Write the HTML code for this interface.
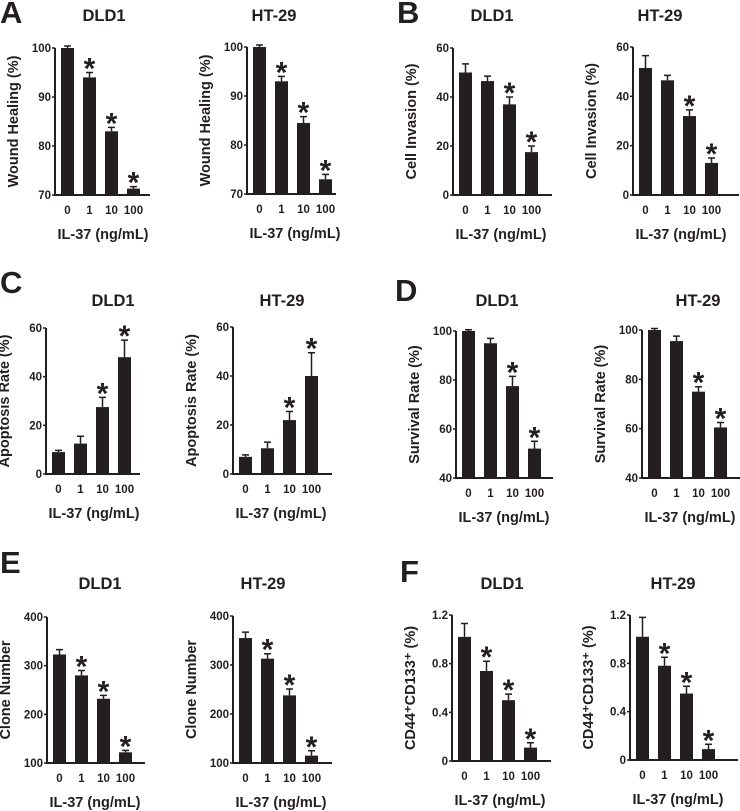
<!DOCTYPE html>
<html><head><meta charset="utf-8"><style>
html,body{margin:0;padding:0;background:#fff;}
svg{display:block;font-family:"Liberation Sans",Arial,sans-serif;}
</style></head><body>
<svg id="fig" width="740" height="811" viewBox="0 0 740 811" xmlns="http://www.w3.org/2000/svg"></svg>
<script>
const categories = ["0","1","10","100"];
const aDLD1 = [100,94,83,71.3], aDLD1Err=[0.4,1,0.8,0.4];
const aHT29 = [100,93,84.5,73], aHT29Err=[0.4,1,1.3,1];
const bDLD1 = [50,46.5,37,17.5], bDLD1Err=[3.5,2,3,2.5];
const bHT29 = [51.5,46.5,32,13], bHT29Err=[5,2,2.5,2];
const cDLD1 = [9,12.5,27.5,48], cDLD1Err=[0.7,3,4,7];
const cHT29 = [7,10.5,22,40], cHT29Err=[0.8,2.5,3.5,9.5];
const dDLD1 = [100,95,77.5,52], dDLD1Err=[0.5,2,4,3];
const dHT29 = [100,95.5,75,60.5], dHT29Err=[0.6,2,2,2];
const eDLD1 = [323,280,232,122], eDLD1Err=[10,10,7,4];
const eHT29 = [355,313,238,115], eHT29Err=[12,10,13,10];
const fDLD1 = [1.02,0.74,0.50,0.11], fDLD1Err=[0.11,0.08,0.05,0.04];
const fHT29 = [1.02,0.78,0.55,0.09], fHT29Err=[0.16,0.07,0.06,0.04];
const ticksA=[70,80,90,100], ticksB=[0,20,40,60], ticksD=[40,60,80,100], ticksE=[100,200,300,400], ticksF=[0,0.4,0.8,1.2];
const tickLabelsF=["0","0.4","0.8","1.2"];

const svg=document.getElementById('fig');
const NS="http://www.w3.org/2000/svg";
function mk(tag,attrs,parent){const e=document.createElementNS(NS,tag);for(const k in attrs)e.setAttribute(k,attrs[k]);(parent||svg).appendChild(e);return e;}

const panels=[
 {id:"a-dld1",title:"DLD1",tx:104,ty:21,ax:55,top:48,bot:195,end:150,ticks:ticksA,vals:aDLD1,err:aDLD1Err,stars:[1,2,3],ylab:"Wound Healing (%)"},
 {id:"a-ht29",title:"HT-29",tx:274,ty:21,ax:247,top:47,bot:194,end:336,ticks:ticksA,vals:aHT29,err:aHT29Err,stars:[1,2,3],ylab:"Wound Healing (%)"},
 {id:"b-dld1",title:"DLD1",tx:492,ty:21,ax:453,top:48,bot:195,end:552,ticks:ticksB,vals:bDLD1,err:bDLD1Err,stars:[2,3],ylab:"Cell Invasion (%)"},
 {id:"b-ht29",title:"HT-29",tx:660,ty:21,ax:633,top:47,bot:195,end:739,ticks:ticksB,vals:bHT29,err:bHT29Err,stars:[2,3],ylab:"Cell Invasion (%)"},
 {id:"c-dld1",title:"DLD1",tx:113,ty:306,ax:46,top:328,bot:474,end:140,ticks:ticksB,vals:cDLD1,err:cDLD1Err,stars:[2,3],ylab:"Apoptosis Rate (%)"},
 {id:"c-ht29",title:"HT-29",tx:282,ty:306,ax:233,top:327,bot:474,end:332,ticks:ticksB,vals:cHT29,err:cHT29Err,stars:[2,3],ylab:"Apoptosis Rate (%)"},
 {id:"d-dld1",title:"DLD1",tx:497,ty:306,ax:456,top:331,bot:478,end:553,ticks:ticksD,vals:dDLD1,err:dDLD1Err,stars:[2,3],ylab:"Survival Rate (%)"},
 {id:"d-ht29",title:"HT-29",tx:698,ty:306,ax:642,top:330,bot:478,end:740,ticks:ticksD,vals:dHT29,err:dHT29Err,stars:[2,3],ylab:"Survival Rate (%)"},
 {id:"e-dld1",title:"DLD1",tx:100,ty:589,ax:47,top:617,bot:763,end:145,ticks:ticksE,vals:eDLD1,err:eDLD1Err,stars:[1,2,3],ylab:"Clone Number"},
 {id:"e-ht29",title:"HT-29",tx:263,ty:589,ax:233,top:616,bot:763,end:332,ticks:ticksE,vals:eHT29,err:eHT29Err,stars:[1,2,3],ylab:"Clone Number"},
 {id:"f-dld1",title:"DLD1",tx:502,ty:589,ax:452,top:615,bot:761,end:551,ticks:ticksF,labels:tickLabelsF,vals:fDLD1,err:fDLD1Err,stars:[1,2,3],ylab:"CD44⁺CD133⁺ (%)"},
 {id:"f-ht29",title:"HT-29",tx:673,ty:589,ax:630,top:615,bot:760,end:738,ticks:ticksF,labels:tickLabelsF,vals:fHT29,err:fHT29Err,stars:[1,2,3],ylab:"CD44⁺CD133⁺ (%)"}
];

const letters=[["A",0,23],["B",397,23],["C",0,293],["D",395,301],["E",0,573],["F",400,582]];
letters.forEach(l=>{
  const t=mk('text',{x:l[1],y:l[2],'font-size':31,'font-weight':'bold',fill:'#231f20'});
  t.textContent=l[0];
  
  
});

panels.forEach(p=>{
  const g=mk('g',{});
  
  
  const lo=p.ticks[0], hi=p.ticks[p.ticks.length-1];
  const y=v=>p.bot-(v-lo)/(hi-lo)*(p.bot-p.top);
  const xb=i=>p.ax+6+i*22;
  const title=mk('text',{x:p.tx,y:p.ty,'font-size':16.5,'font-weight':'bold','text-anchor':'middle',fill:'#231f20'},g);
  title.textContent=p.title;
  
  
  p.vals.forEach((v,i)=>{
    const r=mk('rect',{x:xb(i),y:y(v),width:13,height:p.bot-y(v),fill:'#231f20'},g);
    
    
    const ye=y(v+p.err[i]);
    const el=mk('path',{d:`M${xb(i)+6.5},${y(v)} V${ye} M${xb(i)+3},${ye} H${xb(i)+10}`,stroke:'#231f20','stroke-width':1.5,fill:'none'},g);
    
    
    if(p.stars.includes(i)){
      const s=mk('text',{x:xb(i)+6.5,y:ye+6,'font-size':30,'font-weight':'bold','text-anchor':'middle',fill:'#231f20'},g);
      s.textContent='*';
      
      
    }
    const tl=mk('text',{x:xb(i)+6.5,y:p.bot+19,'font-size':11.5,'font-weight':'bold','text-anchor':'middle',fill:'#231f20'},g);
    tl.textContent=categories[i];
    
    
  });
  const axes=mk('path',{d:`M${p.ax},${p.top} V${p.bot} H${p.end}`,stroke:'#231f20','stroke-width':2,fill:'none'},g);
  
  
  p.ticks.forEach((t,i)=>{
    const ty=y(t);
    mk('line',{x1:p.ax-3,x2:p.ax,y1:ty,y2:ty,stroke:'#231f20','stroke-width':1.5},g);
    const lb=mk('text',{x:p.ax-4,y:ty+4,'font-size':11.5,'font-weight':'bold','text-anchor':'end',fill:'#231f20'},g);
    lb.textContent=p.labels?p.labels[i]:String(t);
    
    
  });
  const xl=mk('text',{x:p.ax+48,y:p.bot+44,'font-size':14.5,'font-weight':'bold','text-anchor':'middle',fill:'#231f20'},g);
  xl.textContent='IL-37 (ng/mL)';
  
  
  const cy=(p.top+p.bot)/2, cx=p.ax-37;
  const yl=mk('text',{x:cx,y:cy,'font-size':14.5,'font-weight':'bold','text-anchor':'middle',fill:'#231f20',transform:`rotate(-90 ${cx} ${cy})`},g);
  yl.textContent=p.ylab;
  
  
});
</script>
</body></html>
